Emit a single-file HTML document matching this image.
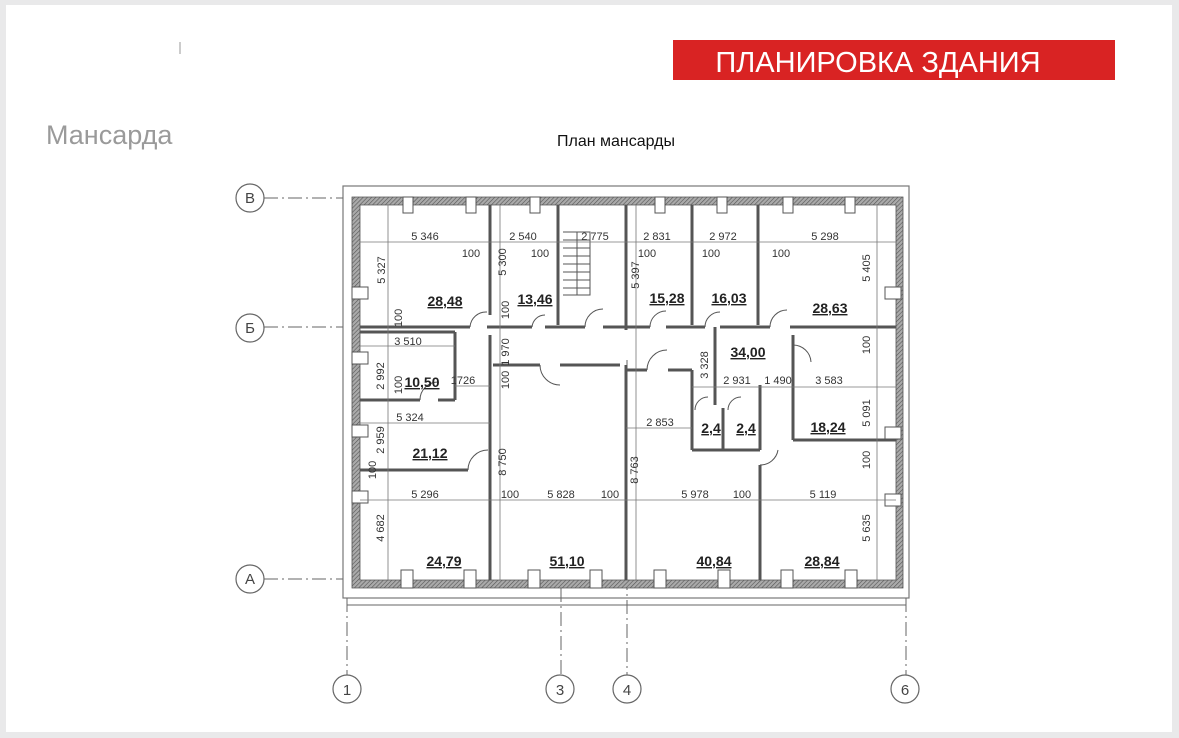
<!DOCTYPE html>
<html><head><meta charset="utf-8"><style>
html,body{margin:0;padding:0;background:#e9e9ea;}
.card{position:absolute;left:6px;top:5px;width:1166px;height:727px;background:#fff;}
svg{position:absolute;left:0;top:0}
text{font-family:"Liberation Sans",sans-serif;}
</style></head><body>
<div class="card"></div>
<svg width="1179" height="738" viewBox="0 0 1179 738">
<defs>
<pattern id="h" width="3" height="3" patternUnits="userSpaceOnUse" patternTransform="rotate(45)">
<rect width="3" height="3" fill="#aaa"/><line x1="0" y1="0" x2="0" y2="3" stroke="#555" stroke-width="1.2"/></pattern>
</defs>
<line x1="180" y1="42" x2="180" y2="54" stroke="#999"/>
<rect x="673" y="40" width="442" height="40" fill="#d92323"/>
<text x="878" y="72" fill="#fff" font-size="29" text-anchor="middle">ПЛАНИРОВКА ЗДАНИЯ</text>
<text x="46" y="144" fill="#9a9a9a" font-size="27">Мансарда</text>
<text x="616" y="146" fill="#111" font-size="16" text-anchor="middle">План мансарды</text>

<!-- frame -->
<rect x="343" y="186" width="566" height="412" fill="none" stroke="#777" stroke-width="1.2"/>
<!-- axes -->
<g stroke="#666" stroke-width="1" fill="none" stroke-dasharray="14 4 2 4">
<line x1="264" y1="198" x2="343" y2="198"/><line x1="264" y1="327" x2="343" y2="327"/><line x1="264" y1="579" x2="343" y2="579"/>
<line x1="347" y1="598" x2="347" y2="675"/><line x1="561" y1="588" x2="561" y2="675"/><line x1="627" y1="360" x2="627" y2="675"/><line x1="906" y1="598" x2="906" y2="675"/>
</g>
<line x1="347" y1="605" x2="906" y2="605" stroke="#666"/>
<g fill="#fff" stroke="#666" stroke-width="1.2">
<circle cx="250" cy="198" r="14"/><circle cx="250" cy="328" r="14"/><circle cx="250" cy="579" r="14"/>
<circle cx="347" cy="689" r="14"/><circle cx="560" cy="689" r="14"/><circle cx="627" cy="689" r="14"/><circle cx="905" cy="689" r="14"/>
</g>
<g font-size="15" fill="#444" text-anchor="middle">
<text x="250" y="203">В</text><text x="250" y="333">Б</text><text x="250" y="584">А</text>
<text x="347" y="695">1</text><text x="560" y="695">3</text><text x="627" y="695">4</text><text x="905" y="695">6</text>
</g>

<!-- outer walls -->
<path d="M352 197H903V588H352Z M360 205V580H896V205Z" fill="url(#h)" fill-rule="evenodd" stroke="#555" stroke-width="0.8"/>
<!-- interior walls -->
<g stroke="#555" stroke-width="3" fill="none">
<line x1="490" y1="205" x2="490" y2="315"/><line x1="490" y1="335" x2="490" y2="580"/>
<line x1="558" y1="205" x2="558" y2="325"/><line x1="626" y1="205" x2="626" y2="330"/><line x1="626" y1="365" x2="626" y2="580"/>
<line x1="692" y1="205" x2="692" y2="325"/><line x1="758" y1="205" x2="758" y2="325"/>
<line x1="360" y1="327" x2="470" y2="327"/><line x1="487" y1="327" x2="532" y2="327"/><line x1="545" y1="327" x2="585" y2="327"/>
<line x1="603" y1="327" x2="650" y2="327"/><line x1="666" y1="327" x2="705" y2="327"/><line x1="720" y1="327" x2="770" y2="327"/><line x1="790" y1="327" x2="896" y2="327"/>
<line x1="360" y1="332" x2="455" y2="332"/><line x1="455" y1="332" x2="455" y2="400"/><line x1="360" y1="400" x2="420" y2="400"/><line x1="438" y1="400" x2="455" y2="400"/>
<line x1="360" y1="470" x2="468" y2="470"/>
<line x1="493" y1="365" x2="540" y2="365"/><line x1="560" y1="365" x2="620" y2="365"/>
<line x1="626" y1="370" x2="647" y2="370"/><line x1="668" y1="370" x2="692" y2="370"/><line x1="692" y1="370" x2="692" y2="450"/>
<line x1="715" y1="327" x2="715" y2="405"/><line x1="692" y1="450" x2="760" y2="450"/><line x1="723" y1="408" x2="723" y2="450"/>
<line x1="760" y1="385" x2="760" y2="450"/><line x1="760" y1="465" x2="760" y2="580"/>
<line x1="793" y1="335" x2="793" y2="440"/><line x1="793" y1="440" x2="896" y2="440"/>
</g>
<!-- doors -->
<g stroke="#555" stroke-width="1" fill="none">
<path d="M470 327 A16 16 0 0 1 487 312"/><path d="M532 327 A13 13 0 0 1 545 315"/><path d="M585 327 A18 18 0 0 1 603 309"/>
<path d="M650 327 A16 16 0 0 1 666 311"/><path d="M705 327 A15 15 0 0 1 720 312"/><path d="M770 327 A17 17 0 0 1 787 310"/>
<path d="M647 370 A20 20 0 0 1 667 350"/><path d="M540 365 A20 20 0 0 0 560 385"/><path d="M420 400 A18 18 0 0 1 438 382"/>
<path d="M793 345 A18 18 0 0 1 811 362"/><path d="M760 465 A18 18 0 0 0 778 450"/><path d="M468 470 A20 20 0 0 1 488 450"/>
<path d="M695 410 A13 13 0 0 1 708 397"/><path d="M728 410 A13 13 0 0 1 741 397"/>
<path d="M563 232H590V295H563M563 240H590M563 248H590M563 256H590M563 264H590M563 272H590M563 280H590M563 288H590M577 232V295"/>
</g>
<!-- columns -->
<g fill="#fff" stroke="#555" stroke-width="1">
<rect x="403" y="197" width="10" height="16"/><rect x="466" y="197" width="10" height="16"/><rect x="530" y="197" width="10" height="16"/>
<rect x="655" y="197" width="10" height="16"/><rect x="717" y="197" width="10" height="16"/><rect x="783" y="197" width="10" height="16"/><rect x="845" y="197" width="10" height="16"/>
<rect x="401" y="570" width="12" height="18"/><rect x="464" y="570" width="12" height="18"/><rect x="528" y="570" width="12" height="18"/><rect x="590" y="570" width="12" height="18"/>
<rect x="654" y="570" width="12" height="18"/><rect x="718" y="570" width="12" height="18"/><rect x="781" y="570" width="12" height="18"/><rect x="845" y="570" width="12" height="18"/>
<rect x="352" y="287" width="16" height="12"/><rect x="352" y="352" width="16" height="12"/><rect x="352" y="425" width="16" height="12"/><rect x="352" y="491" width="16" height="12"/>
<rect x="885" y="287" width="16" height="12"/><rect x="885" y="427" width="16" height="12"/><rect x="885" y="494" width="16" height="12"/>
</g>
<!-- dimension lines -->
<g stroke="#777" stroke-width="0.8">
<line x1="360" y1="242" x2="896" y2="242"/><line x1="360" y1="346" x2="455" y2="346"/><line x1="455" y1="386" x2="490" y2="386"/>
<line x1="360" y1="423" x2="490" y2="423"/><line x1="360" y1="500" x2="896" y2="500"/><line x1="626" y1="428" x2="692" y2="428"/>
<line x1="692" y1="387" x2="896" y2="387"/>
<line x1="388" y1="205" x2="388" y2="580"/><line x1="500" y1="205" x2="500" y2="580"/><line x1="636" y1="205" x2="636" y2="580"/><line x1="877" y1="205" x2="877" y2="580"/>
</g>
<g font-size="11" fill="#333" text-anchor="middle">
<text x="425" y="240">5 346</text><text x="523" y="240">2 540</text><text x="595" y="240">2 775</text><text x="657" y="240">2 831</text><text x="723" y="240">2 972</text><text x="825" y="240">5 298</text>
<text x="471" y="257">100</text><text x="540" y="257">100</text><text x="647" y="257">100</text><text x="711" y="257">100</text><text x="781" y="257">100</text>
<text x="408" y="345">3 510</text><text x="463" y="384">1726</text><text x="410" y="421">5 324</text>
<text x="425" y="498">5 296</text><text x="510" y="498">100</text><text x="561" y="498">5 828</text><text x="610" y="498">100</text>
<text x="695" y="498">5 978</text><text x="742" y="498">100</text><text x="823" y="498">5 119</text>
<text x="660" y="426">2 853</text><text x="737" y="384">2 931</text><text x="778" y="384">1 490</text><text x="829" y="384">3 583</text>
</g>
<g font-size="11" fill="#333" text-anchor="middle">
<text transform="translate(385,270) rotate(-90)">5 327</text><text transform="translate(402,318) rotate(-90)">100</text>
<text transform="translate(506,262) rotate(-90)">5 300</text><text transform="translate(509,310) rotate(-90)">100</text>
<text transform="translate(509,352) rotate(-90)">1 970</text><text transform="translate(509,380) rotate(-90)">100</text>
<text transform="translate(384,376) rotate(-90)">2 992</text><text transform="translate(402,385) rotate(-90)">100</text>
<text transform="translate(384,440) rotate(-90)">2 959</text><text transform="translate(376,470) rotate(-90)">100</text>
<text transform="translate(384,528) rotate(-90)">4 682</text><text transform="translate(506,462) rotate(-90)">8 750</text>
<text transform="translate(639,275) rotate(-90)">5 397</text><text transform="translate(638,470) rotate(-90)">8 763</text>
<text transform="translate(708,365) rotate(-90)">3 328</text>
<text transform="translate(870,268) rotate(-90)">5 405</text><text transform="translate(870,345) rotate(-90)">100</text>
<text transform="translate(870,413) rotate(-90)">5 091</text><text transform="translate(870,460) rotate(-90)">100</text>
<text transform="translate(870,528) rotate(-90)">5 635</text>
</g>
<g font-size="14" font-weight="bold" fill="#222" text-anchor="middle" text-decoration="underline">
<text x="445" y="306">28,48</text><text x="535" y="304">13,46</text><text x="667" y="303">15,28</text><text x="729" y="303">16,03</text><text x="830" y="313">28,63</text>
<text x="748" y="357">34,00</text><text x="422" y="387">10,50</text><text x="430" y="458">21,12</text><text x="711" y="433">2,4</text><text x="746" y="433">2,4</text>
<text x="828" y="432">18,24</text><text x="444" y="566">24,79</text><text x="567" y="566">51,10</text><text x="714" y="566">40,84</text><text x="822" y="566">28,84</text>
</g>
</svg>
</body></html>
